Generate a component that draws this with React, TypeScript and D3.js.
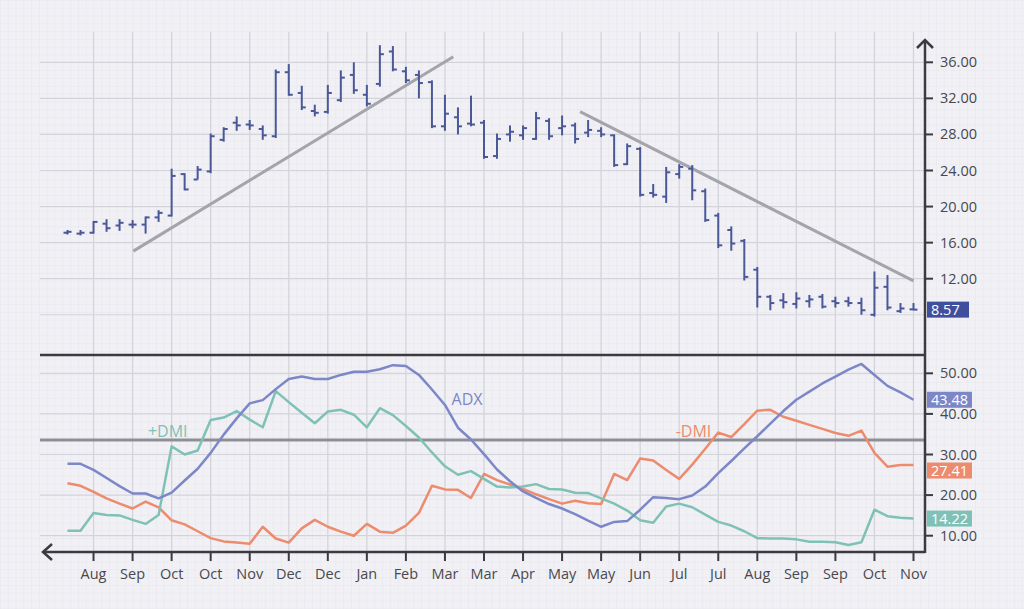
import React from 'react';
import * as d3 from 'd3';

const monthLabels = ['Aug','Sep','Oct','Oct','Nov','Dec','Dec','Jan','Feb','Mar','Mar','Apr','May','May','Jun','Jul','Jul','Aug','Sep','Sep','Oct','Nov'];

const opens = [17.1,17.0,17.1,18.1,17.9,18.0,18.0,18.8,19.0,23.6,23.0,23.9,27.4,29.3,29.1,28.6,27.8,34.9,32.6,30.6,30.5,31.8,34.6,32.4,33.6,37.2,35.0,34.6,33.8,28.9,29.9,29.2,29.3,25.6,28.0,27.9,27.5,29.5,28.7,29.0,28.2,28.4,27.9,24.7,26.4,21.5,21.1,23.6,24.2,21.7,19.0,17.4,16.2,13.0,10.0,9.6,9.2,9.5,10.0,9.5,9.5,9.3,8.0,11.1,8.4,8.6];
const highs = [17.4,17.4,18.4,18.6,18.6,18.5,18.9,19.6,24.2,23.7,24.5,28.1,28.8,30.0,29.6,29.0,35.2,35.8,33.4,31.3,33.5,35.1,36.0,33.5,37.9,37.8,35.5,35.1,34.0,32.4,31.0,32.3,29.6,28.1,29.0,29.0,30.5,29.8,30.1,29.3,29.6,28.8,28.0,27.0,26.6,22.5,24.4,24.7,24.6,22.0,19.3,17.8,16.4,13.3,10.2,10.4,10.5,10.2,10.3,10.0,10.0,9.9,12.8,12.4,9.3,9.3];
const lows = [16.9,16.8,17.0,17.2,17.3,17.6,17.0,18.3,18.9,21.8,23.0,23.7,27.2,28.4,28.5,27.4,27.6,32.3,30.7,30.0,30.3,31.6,32.5,31.1,33.3,35.0,33.7,32.0,28.7,28.4,28.0,28.9,25.3,25.3,27.2,27.4,27.4,27.4,27.9,27.0,27.7,27.7,24.4,24.6,21.1,21.0,20.4,23.1,20.7,18.3,15.4,15.1,11.8,8.8,8.5,8.7,8.7,8.8,8.7,8.8,8.9,8.0,7.8,8.5,8.2,8.5];
const closes = [17.2,17.1,18.3,17.6,18.2,18.0,18.8,19.3,23.4,21.9,24.1,27.8,28.6,29.0,29.0,27.9,34.9,32.4,31.0,30.4,32.6,34.3,32.9,31.4,36.9,35.2,34.0,33.7,28.9,30.3,28.9,29.1,25.5,27.5,28.3,28.7,29.8,27.8,28.9,27.5,28.5,28.0,24.6,26.7,21.3,21.3,23.8,24.4,21.8,18.5,15.7,15.9,12.2,10.0,9.3,9.4,9.8,9.7,8.9,9.3,9.3,8.5,11.0,8.8,8.7,8.57];

const adx = [27.7,27.7,26.2,24.2,22.2,20.4,20.4,19.2,20.6,23.6,26.5,30.4,34.9,38.9,42.6,43.4,46.1,48.6,49.2,48.6,48.6,49.6,50.4,50.4,51.0,52.0,51.8,49.6,46.0,42.2,36.6,33.7,30.1,26.3,23.4,20.9,19.3,17.8,16.7,15.3,13.7,12.2,13.4,13.6,16.4,19.5,19.3,19.0,19.9,22.1,25.4,28.4,31.5,34.5,37.6,40.7,43.5,45.5,47.5,49.2,50.9,52.3,49.6,46.9,45.3,43.48];
const plusDmi = [11.2,11.2,15.6,15.1,15.0,13.9,12.9,15.1,32.0,30.0,31.0,38.5,39.1,40.7,38.6,36.7,45.6,42.9,40.3,37.7,40.6,41.0,39.8,36.7,41.4,39.7,37.0,34.2,30.5,27.1,25.0,25.9,24.0,22.1,21.9,22.1,22.7,21.5,21.4,20.6,20.5,19.2,17.9,16.2,13.8,13.2,17.2,17.9,17.0,15.2,13.4,12.5,11.1,9.4,9.3,9.3,9.1,8.5,8.5,8.4,7.7,8.4,16.4,14.8,14.4,14.22];
const minusDmi = [22.9,22.3,20.8,19.2,17.9,16.7,18.4,17.0,13.8,12.8,11.1,9.4,8.6,8.3,8.0,12.2,9.3,8.3,11.8,13.9,12.2,11.0,10.0,12.9,11.0,10.7,12.5,15.6,22.3,21.4,21.3,19.3,25.2,23.7,22.6,21.5,20.2,19.0,17.9,18.6,18.0,17.8,25.2,23.7,29.0,28.5,26.2,24.0,27.5,31.4,35.4,34.3,37.5,40.8,41.0,39.3,38.3,37.3,36.3,35.3,34.6,35.9,30.4,27.0,27.4,27.41];

const priceTicks = [12,16,20,24,28,32,36];
const priceGrid = [8,12,16,20,24,28,32,36];
const indTicks = [10,20,30,40,50];
const threshold = 33.6;
const upTrend = [{ i: 5.06, v: 15.06 }, { i: 29.64, v: 36.62 }];
const downTrend = [{ i: 39.38, v: 30.52 }, { i: 65, v: 11.76 }];

const W = 1024, H = 609;
const FONT = '"Open Sans", "Noto Sans", sans-serif';
const C = {
  bg: '#f1f1f5', fine: '#e4e4eb', major: '#d3d3db', axis: '#3a3a3f', text: '#48484e',
  bar: '#4a5898', trend: '#a4a4aa', thr: '#8e8e97',
  adx: '#7c87c8', plus: '#7fc1b6', minus: '#ec8b6d', last: '#3f4f9d',
};

export default function App() {
  const x = d3.scaleLinear().domain([0, 65]).range([67.5, 913.5]);
  const yP = d3.scaleLinear().domain([12, 36]).range([278.7, 62.3]);
  const yI = d3.scaleLinear().domain([10, 50]).range([535.7, 373.3]);
  const axisX = 925, left = 40, topBase = 355, bottomBase = 552;
  const tickIdx = monthLabels.map((_, i) => 2 + 3 * i);

  const mk = (arr: number[]) => d3.line<number>().x((_, i) => x(i)).y((d) => yI(d))(arr) || '';
  const trendLine = d3.line<{ i: number; v: number }>().x((d) => x(d.i)).y((d) => yP(d.v));

  const fineStep = 7.8;
  const fx = x(2) % fineStep;
  const fy = yP(36) % fineStep;

  const box = (val: number, yc: number, color: string, key: string) => (
    <g key={key}>
      <rect x={axisX + 2} y={yc - 8} width={val < 10 ? 42 : 45} height={16} fill={color} />
      <text x={axisX + 6} y={yc + 5} fontSize={14.5} fill="#fff" fontFamily={FONT}>{val.toFixed(2)}</text>
    </g>
  );

  return (
    <svg width={W} height={H} style={{ position: 'absolute', left: 0, top: 0 }}>
      <defs>
        <pattern id="fine" width={fineStep} height={fineStep} patternUnits="userSpaceOnUse" x={fx} y={fy}>
          <path d={`M0 0 H${fineStep} M0 0 V${fineStep}`} stroke={C.fine} strokeWidth={1} fill="none" />
        </pattern>
      </defs>
      <rect width={W} height={H} fill={C.bg} />
      <rect width={W} height={H} fill="url(#fine)" />

      {tickIdx.map((k) => (
        <line key={'vg' + k} x1={x(k)} x2={x(k)} y1={32} y2={bottomBase} stroke={C.major} strokeWidth={1.2} />
      ))}
      {priceGrid.map((v) => (
        <line key={'hp' + v} x1={left} x2={axisX} y1={yP(v)} y2={yP(v)} stroke={C.major} strokeWidth={1.2} />
      ))}
      {indTicks.map((v) => (
        <line key={'hi' + v} x1={left} x2={axisX} y1={yI(v)} y2={yI(v)} stroke={C.major} strokeWidth={1.2} />
      ))}

      <path d={trendLine(upTrend) || ''} stroke={C.trend} strokeWidth={3} fill="none" />
      <path d={trendLine(downTrend) || ''} stroke={C.trend} strokeWidth={3} fill="none" />

      {opens.map((o, i) => {
        const cx = x(i);
        return (
          <g key={'b' + i} stroke={C.bar} strokeWidth={2}>
            <line x1={cx} x2={cx} y1={yP(highs[i])} y2={yP(lows[i])} />
            <line x1={cx - 4} x2={cx} y1={yP(o)} y2={yP(o)} />
            <line x1={cx} x2={cx + 4} y1={yP(closes[i])} y2={yP(closes[i])} />
          </g>
        );
      })}

      <line x1={left} x2={axisX} y1={yI(threshold)} y2={yI(threshold)} stroke={C.thr} strokeWidth={3} />
      <path d={mk(minusDmi)} stroke={C.minus} strokeWidth={2.5} fill="none" strokeLinejoin="round" />
      <path d={mk(plusDmi)} stroke={C.plus} strokeWidth={2.5} fill="none" strokeLinejoin="round" />
      <path d={mk(adx)} stroke={C.adx} strokeWidth={2.5} fill="none" strokeLinejoin="round" />

      <text x={x(7.7)} y={yI(34.3)} textAnchor="middle" fontSize={16} fill={C.plus} fontFamily={FONT}>+DMI</text>
      <text x={x(30.7)} y={yI(42.2)} textAnchor="middle" fontSize={16} fill={C.adx} fontFamily={FONT}>ADX</text>
      <text x={x(48.1)} y={yI(34.3)} textAnchor="middle" fontSize={16} fill={C.minus} fontFamily={FONT}>-DMI</text>

      <line x1={left} x2={axisX} y1={topBase} y2={topBase} stroke={C.axis} strokeWidth={2.5} />
      <line x1={43} x2={axisX} y1={bottomBase} y2={bottomBase} stroke={C.axis} strokeWidth={2.5} />
      <line x1={axisX} x2={axisX} y1={40} y2={bottomBase + 1} stroke={C.axis} strokeWidth={2.5} />
      <path d={`M${axisX - 8} ${48} L${axisX} ${40} L${axisX + 8} ${48}`} stroke={C.axis} strokeWidth={2.5} fill="none" />
      <path d={`M${52} ${bottomBase - 8} L${43} ${bottomBase} L${52} ${bottomBase + 8}`} stroke={C.axis} strokeWidth={2.5} fill="none" />

      {tickIdx.map((k, i) => (
        <g key={'xt' + i}>
          <line x1={x(k)} x2={x(k)} y1={bottomBase} y2={bottomBase + 9} stroke={C.axis} strokeWidth={2} />
          <text x={x(k)} y={bottomBase + 27} textAnchor="middle" fontSize={14.5} fill={C.text} fontFamily={FONT}>{monthLabels[i]}</text>
        </g>
      ))}
      {priceTicks.map((v) => (
        <g key={'pt' + v}>
          <line x1={axisX} x2={axisX + 8} y1={yP(v)} y2={yP(v)} stroke={C.axis} strokeWidth={2} />
          <text x={axisX + 15} y={yP(v) + 5} fontSize={14.5} fill={C.text} fontFamily={FONT}>{v.toFixed(2)}</text>
        </g>
      ))}
      {indTicks.map((v) => (
        <g key={'it' + v}>
          <line x1={axisX} x2={axisX + 8} y1={yI(v)} y2={yI(v)} stroke={C.axis} strokeWidth={2} />
          <text x={axisX + 15} y={yI(v) + 5} fontSize={14.5} fill={C.text} fontFamily={FONT}>{v.toFixed(2)}</text>
        </g>
      ))}

      {box(closes[closes.length - 1], yP(closes[closes.length - 1]), C.last, 'lb1')}
      {box(adx[adx.length - 1], yI(adx[adx.length - 1]), C.adx, 'lb2')}
      {box(minusDmi[minusDmi.length - 1], yI(minusDmi[minusDmi.length - 1]) + 5.5, C.minus, 'lb3')}
      {box(plusDmi[plusDmi.length - 1], yI(plusDmi[plusDmi.length - 1]), C.plus, 'lb4')}
    </svg>
  );
}
